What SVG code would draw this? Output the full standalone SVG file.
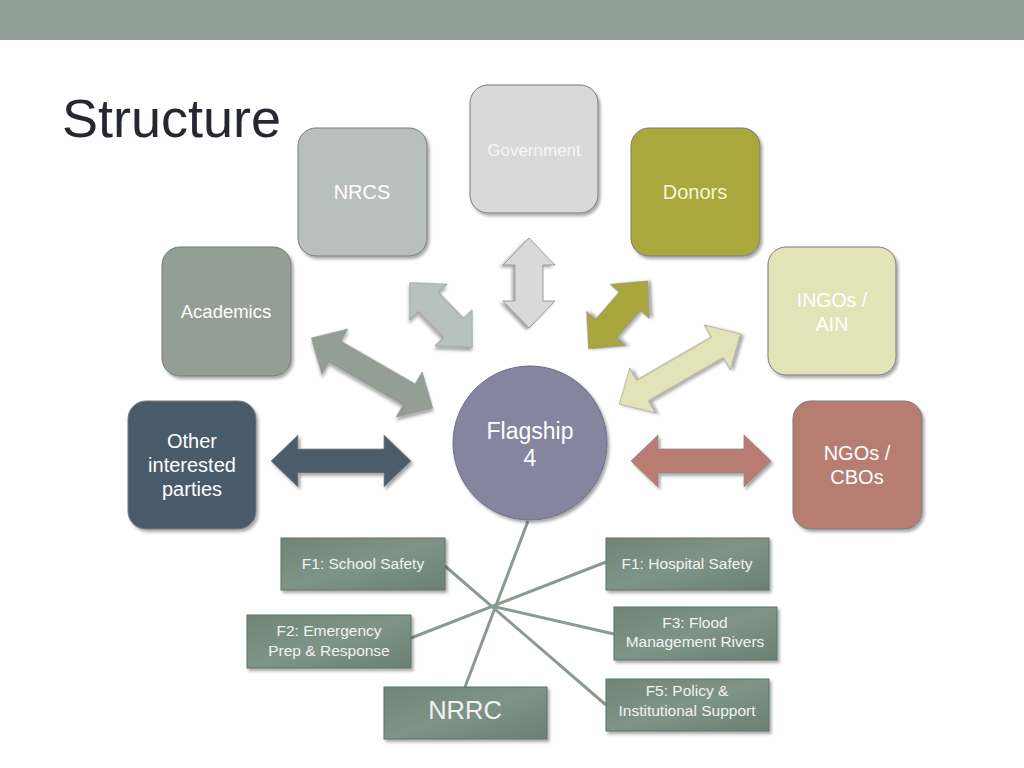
<svg xmlns="http://www.w3.org/2000/svg" width="1024" height="768" viewBox="0 0 1024 768">
<defs>
<filter id="sh" x="-20%" y="-20%" width="150%" height="150%">
<feDropShadow dx="2" dy="2.5" stdDeviation="1.8" flood-color="#000" flood-opacity="0.35"/>
</filter>
<linearGradient id="bg" x1="0" y1="0" x2="1" y2="1">
<stop offset="0" stop-color="#6e8577"/>
<stop offset="0.5" stop-color="#7f9488"/>
<stop offset="1" stop-color="#6a8073"/>
</linearGradient>
<path id="longArrow" d="M-70,0 L-43,-26 L-43,-12 L43,-12 L43,-26 L70,0 L43,26 L43,12 L-43,12 L-43,26 Z"/>
<path id="shortArrow" d="M-45,0 L-18,-26 L-18,-14 L18,-14 L18,-26 L45,0 L18,26 L18,14 L-18,14 L-18,26 Z"/>
<style>
text{font-family:"Liberation Sans",Arial,sans-serif;text-anchor:middle}
.box{stroke:#7a7a7a;stroke-width:1;filter:url(#sh)}
.lbl{fill:#ffffff;font-size:20px}
.sq{fill:url(#bg);stroke:#5f7366;stroke-width:1;filter:url(#sh)}
.sl{fill:#f2f2f2;font-size:15.5px}
.arr{stroke:#8a8a8a;stroke-width:0.8;filter:url(#sh)}
.hub{stroke:#8a9a90;stroke-width:3;fill:none}
</style>
</defs>
<rect width="1024" height="768" fill="#ffffff"/>
<rect x="0" y="0" width="1024" height="40" fill="#8f9e96"/>
<text x="62" y="137" style="text-anchor:start;font-size:54px;fill:#262830">Structure</text>

<g id="connectors">
<use href="#longArrow" class="arr" fill="#4b5b6b" transform="translate(341,461)"/>
<use href="#longArrow" class="arr" fill="#b87b70" transform="translate(701,461)"/>
<use href="#shortArrow" class="arr" fill="#d9d9d9" transform="translate(529,283) rotate(90)"/>
<use href="#shortArrow" class="arr" fill="#b7c2be" transform="translate(441,315) rotate(46)"/>
<use href="#shortArrow" class="arr" fill="#a9a63a" transform="translate(618,315) rotate(-49)"/>
<use href="#longArrow" class="arr" fill="#939e95" transform="translate(372,373) rotate(30)"/>
<use href="#longArrow" class="arr" fill="#e3e3b8" transform="translate(680,369) rotate(-30)"/>
<line class="hub" x1="465" y1="687" x2="528" y2="521"/>
<line class="hub" x1="445" y1="566" x2="606" y2="705"/>
<line class="hub" x1="411" y1="638" x2="606" y2="562"/>
<line class="hub" x1="496" y1="607" x2="614" y2="634"/>
</g>

<g id="government">
<rect class="box" x="470" y="85" width="128" height="128" rx="18" fill="#d9d9d9"/>
<text x="534" y="156" style="fill:#f7f7f7;font-size:17px">Government</text>
</g>
<g id="nrcs">
<rect class="box" x="298" y="128" width="129" height="128" rx="18" fill="#b7c0bc"/>
<text class="lbl" x="362" y="199">NRCS</text>
</g>
<g id="donors">
<rect class="box" x="631" y="128" width="129" height="128" rx="18" fill="#aaa83c"/>
<text x="695" y="199" style="fill:#f6f6dc;font-size:20px">Donors</text>
</g>
<g id="academics">
<rect class="box" x="162" y="247" width="129" height="129" rx="18" fill="#939e95"/>
<text x="226" y="318" style="fill:#ffffff;font-size:18.5px">Academics</text>
</g>
<g id="ingos">
<rect class="box" x="768" y="247" width="128" height="128" rx="18" fill="#e3e3b8"/>
<text x="832" y="307" style="fill:#ffffff;font-size:19.5px">INGOs /</text>
<text x="832" y="331" style="fill:#ffffff;font-size:19.5px">AIN</text>
</g>
<g id="other">
<rect class="box" x="128" y="401" width="128" height="128" rx="18" fill="#4a5a6a"/>
<text class="lbl" x="192" y="448">Other</text>
<text class="lbl" x="192" y="472">interested</text>
<text class="lbl" x="192" y="496">parties</text>
</g>
<g id="ngos">
<rect class="box" x="793" y="401" width="129" height="128" rx="18" fill="#b87d72"/>
<text class="lbl" x="857" y="460">NGOs /</text>
<text class="lbl" x="857" y="484">CBOs</text>
</g>
<g id="flagship">
<circle cx="530" cy="443" r="77" fill="#8585a0" stroke="#6e6e88" stroke-width="1" filter="url(#sh)"/>
<text x="530" y="439" style="fill:#ffffff;font-size:23px">Flagship</text>
<text x="530" y="466" style="fill:#ffffff;font-size:23px">4</text>
</g>

<g id="f1school">
<rect class="sq" x="281" y="538" width="164" height="52"/>
<text class="sl" x="363" y="569">F1: School Safety</text>
</g>
<g id="f1hospital">
<rect class="sq" x="606" y="538" width="163" height="52"/>
<text class="sl" x="687" y="569">F1: Hospital Safety</text>
</g>
<g id="f2">
<rect class="sq" x="247" y="615" width="164" height="53"/>
<text class="sl" x="329" y="636">F2: Emergency</text>
<text class="sl" x="329" y="656">Prep &amp; Response</text>
</g>
<g id="f3">
<rect class="sq" x="614" y="607" width="163" height="53"/>
<text class="sl" x="695" y="628">F3: Flood</text>
<text class="sl" x="695" y="647">Management Rivers</text>
</g>
<g id="nrrc">
<rect class="sq" x="384" y="687" width="163" height="52"/>
<text x="465" y="719" style="fill:#f2f2f2;font-size:25.5px">NRRC</text>
</g>
<g id="f5">
<rect class="sq" x="606" y="679" width="163" height="52"/>
<text class="sl" x="687" y="696">F5: Policy &amp;</text>
<text class="sl" x="687" y="716">Institutional Support</text>
</g>
</svg>
